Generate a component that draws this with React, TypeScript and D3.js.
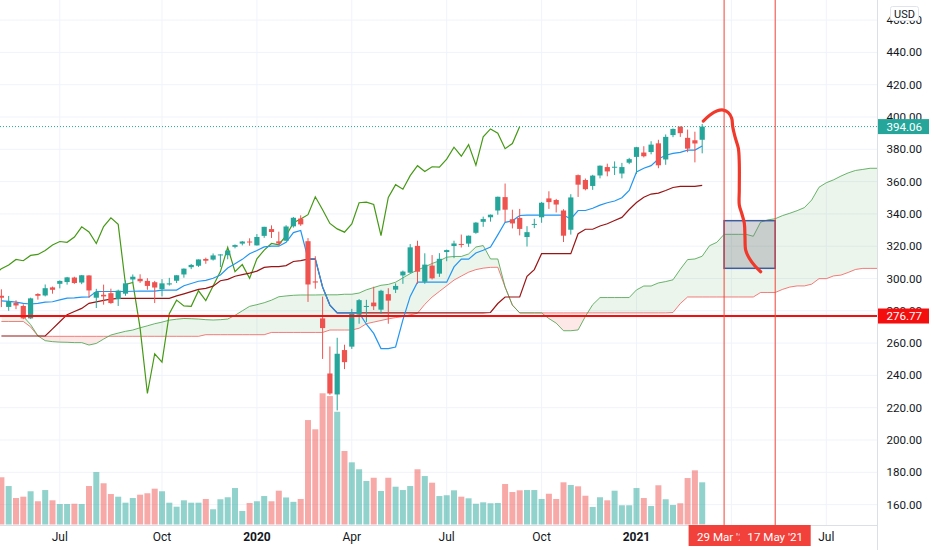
import React from 'react';
import * as d3 from 'd3';

// ---------- DATA (weekly bars, index 0 = week of 6 May 2019, 96 = week of 8 Mar 2021) ----------
const opens = [
  289.3, 282.4, 284.8, 283.0, 275.3, 290.4, 289.5, 294.5, 296.7, 297.8,
  300.6, 297.5, 301.9, 288.1, 289.9, 290.9, 287.2, 290.6, 299.4, 299.8,
  298.5, 297.7, 293.4, 296.3, 298.6, 302.5, 307.0, 307.9, 312.1, 311.7,
  314.6, 314.4, 319.6, 321.6, 322.9, 320.5, 326.4, 330.6, 323.0, 323.4,
  332.3, 337.1, 323.1, 298.2, 275.3, 241.2, 228.2, 255.7, 257.8, 277.6,
  282.6, 285.1, 280.7, 290.3, 293.1, 301.9, 303.6, 320.2, 298.0, 308.0,
  303.0, 316.4, 320.1, 321.4, 321.6, 328.3, 335.1, 337.9, 342.1, 350.4,
  336.7, 337.5, 325.7, 333.2, 337.9, 349.6, 348.6, 342.1, 330.2, 364.0,
  361.0, 357.3, 363.8, 369.0, 368.6, 365.0, 371.7, 375.3, 378.0, 378.3,
  383.7, 373.7, 388.8, 394.0, 387.1, 385.6, 385.9,
];
const highs = [
  293.3, 289.2, 286.5, 284.0, 288.1, 290.9, 296.3, 295.0, 298.8, 301.0,
  301.1, 302.2, 302.0, 293.6, 296.2, 293.7, 293.1, 298.8, 302.5, 302.6,
  300.2, 298.5, 299.6, 300.4, 302.0, 306.2, 309.0, 311.8, 312.9, 315.5,
  315.0, 317.3, 321.1, 323.2, 324.9, 327.5, 332.0, 332.9, 329.0, 333.0,
  338.1, 339.1, 325.0, 313.8, 288.8, 257.9, 263.3, 259.0, 281.2, 287.3,
  286.8, 294.9, 293.0, 294.0, 297.0, 304.9, 321.3, 323.4, 315.6, 314.5,
  315.7, 317.9, 323.4, 327.2, 326.6, 334.9, 338.3, 339.6, 350.7, 358.8,
  342.6, 343.1, 332.4, 337.0, 347.4, 354.0, 349.3, 342.9, 352.2, 364.4,
  361.9, 364.2, 370.0, 371.1, 372.5, 371.6, 374.7, 381.5, 381.9, 385.0,
  385.9, 389.2, 392.9, 394.2, 392.2, 390.9, 395.7,
];
const lows = [
  282.3, 280.0, 281.0, 274.8, 275.0, 286.9, 288.9, 290.6, 293.9, 296.2,
  296.7, 296.5, 288.0, 281.7, 283.8, 284.3, 283.0, 289.3, 297.4, 297.3,
  293.0, 284.8, 288.9, 295.6, 297.2, 300.5, 305.8, 307.2, 309.1, 311.1,
  307.1, 311.9, 318.7, 320.5, 320.3, 320.4, 325.2, 325.1, 320.6, 323.3,
  331.5, 332.6, 285.5, 293.7, 250.2, 228.0, 218.3, 243.9, 256.4, 272.0,
  273.0, 280.5, 278.0, 272.0, 291.0, 296.7, 303.1, 296.7, 296.7, 299.4,
  301.0, 310.7, 312.6, 319.2, 319.6, 327.7, 332.0, 335.2, 339.5, 334.9,
  331.0, 326.7, 319.8, 331.2, 334.5, 343.1, 340.9, 322.6, 327.2, 350.5,
  354.6, 354.9, 362.0, 363.3, 364.1, 362.0, 370.8, 364.8, 375.0, 376.9,
  368.3, 370.4, 387.5, 387.7, 378.2, 371.9, 377.5,
];
const closes = [
  288.1, 285.8, 283.3, 275.3, 287.7, 289.3, 294.0, 293.0, 298.5, 300.7,
  297.2, 302.0, 292.6, 291.6, 288.9, 284.8, 292.5, 297.0, 301.1, 298.3,
  295.4, 294.4, 297.0, 297.0, 302.0, 306.1, 308.4, 311.8, 311.0, 314.3,
  314.9, 317.3, 320.7, 322.9, 322.4, 325.7, 332.0, 328.8, 321.7, 332.2,
  337.6, 333.5, 296.3, 297.5, 269.3, 228.8, 253.4, 248.2, 278.2, 286.6,
  283.0, 282.8, 292.4, 286.3, 295.4, 304.3, 319.3, 304.2, 308.6, 300.1,
  312.2, 317.6, 321.7, 320.9, 326.5, 334.6, 336.8, 339.5, 350.6, 342.6,
  334.1, 330.7, 328.7, 333.8, 346.9, 347.3, 345.8, 326.5, 350.2, 358.1,
  355.3, 363.7, 369.85, 366.3, 369.2, 369.0, 373.9, 381.3, 375.7, 382.9,
  370.1, 387.7, 392.6, 390.0, 380.4, 383.6, 394.06,
];
// weekly volume, millions of shares
const volumes = [
  496, 404, 278, 292, 349, 244, 362, 254, 215, 215,
  218, 215, 404, 551, 433, 320, 292, 229, 278, 313,
  328, 376, 349, 229, 187, 254, 229, 229, 268, 160,
  265, 286, 383, 142, 226, 244, 299, 244, 355, 284,
  238, 268, 1097, 1000, 1378, 1349, 1184, 772, 653, 580,
  457, 491, 352, 491, 397, 362, 404, 580, 509, 439,
  299, 307, 359, 292, 275, 218, 233, 223, 226, 425,
  341, 359, 362, 362, 268, 323, 268, 443, 415, 401,
  302, 184, 286, 254, 355, 202, 202, 383, 278, 194,
  412, 265, 205, 223, 488, 569, 443,
];
// Ichimoku (9, 26, 52, 26)
const conversionLine = [
  286.1, 285.8, 285.4, 284.6, 284.2, 284.6, 285.4, 285.6, 286.8, 287.9,
  287.95, 288.5, 288.6, 291.95, 291.95, 291.95, 291.95, 291.95, 292.1, 292.15,
  292.15, 292.15, 292.8, 292.8, 292.8, 295.5, 296.9, 298.3, 298.85, 300.15,
  302.2, 306.45, 309.15, 311.85, 315.35, 317.3, 319.55, 320.0, 320.0, 322.45,
  328.4, 329.7, 312.3, 312.3, 294.7, 283.5, 278.7, 278.7, 278.7, 278.7,
  271.7, 266.0, 256.6, 256.6, 257.6, 274.4, 288.9, 297.7, 297.7, 297.7,
  297.7, 297.7, 307.2, 312.0, 312.0, 315.8, 317.5, 319.5, 327.0, 334.8,
  335.7, 339.0, 339.2, 339.3, 339.3, 339.3, 339.3, 339.3, 336.9, 342.1,
  342.1, 343.5, 345.4, 346.9, 348.0, 350.0, 354.5, 366.0, 368.3, 369.9,
  373.95, 376.3, 377.5, 378.1, 379.5, 379.5, 382.0,
];
const baseLine = [
  264.4, 264.4, 264.4, 264.4, 264.4, 264.4, 264.4, 268.8, 273.2, 277.6,
  279.6, 281.5, 284.6, 285.5, 286.5, 287.2, 287.7, 287.7, 287.7, 287.7,
  287.7, 287.7, 287.7, 287.7, 289.2, 290.5, 291.9, 293.3, 293.85, 295.25,
  298.6, 299.5, 301.4, 302.45, 303.3, 304.6, 306.85, 307.3, 307.3, 308.0,
  310.55, 311.05, 311.95, 311.95, 294.65, 283.55, 278.7, 278.7, 278.7, 278.7,
  278.7, 278.7, 278.7, 278.7, 278.7, 278.7, 278.7, 278.7, 278.7, 278.7,
  278.7, 278.7, 278.7, 278.7, 278.7, 278.7, 278.7, 278.95, 284.5, 288.55,
  288.55, 288.55, 301.35, 305.5, 315.4, 315.4, 315.4, 315.4, 315.4, 327.7,
  330.5, 330.5, 332.5, 333.9, 335.95, 337.85, 342.7, 347.05, 350.35, 352.3,
  352.9, 354.5, 356.35, 357.0, 357.0, 357.0, 357.7,
];
const leadingSpanA = [
  277.0, 277.0, 276.8, 276.5, 271.5, 264.5, 261.5, 260.9, 260.6, 260.5,
  260.3, 260.3, 258.8, 259.8, 262.5, 265.0, 266.2, 267.3, 268.1, 269.5,
  270.7, 272.0, 273.0, 274.2, 274.8, 275.25, 275.1, 274.9, 274.5, 274.3,
  274.5, 274.9, 277.2, 280.0, 282.75, 283.8, 285.0, 286.6, 288.7, 289.2,
  289.6, 289.8, 289.8, 289.8, 289.9, 289.9, 289.9, 290.25, 290.25, 291.0,
  293.0, 294.4, 295.8, 296.35, 297.7, 300.4, 303.0, 305.3, 307.15, 309.3,
  310.95, 313.2, 313.65, 313.65, 315.2, 319.5, 320.4, 312.1, 312.1, 294.7,
  283.5, 278.7, 278.7, 278.7, 278.7, 275.2, 272.35, 267.65, 267.65, 268.15,
  276.55, 283.8, 288.2, 288.2, 288.2, 288.2, 288.2, 292.95, 295.35, 295.35,
  297.25, 298.1, 299.2, 305.75, 311.7, 312.1, 313.8, 320.3, 322.4, 327.35,
  327.35, 327.35, 327.35, 326.15, 334.9, 336.3, 337.0, 338.95, 340.4, 342.0,
  343.9, 348.6, 356.5, 359.3, 361.1, 363.4, 365.4, 366.9, 367.55, 368.25,
  368.25, 369.85,
];
const leadingSpanB = [
  273.4, 273.4, 273.4, 273.4, 270.0, 264.4, 264.2, 264.2, 264.2, 264.2,
  264.2, 264.2, 264.2, 264.2, 264.2, 264.2, 264.2, 264.2, 264.2, 264.2,
  264.2, 264.2, 264.2, 264.2, 264.2, 264.2, 264.2, 264.2, 265.2, 265.2,
  265.2, 265.2, 265.2, 265.2, 265.2, 265.2, 265.2, 266.6, 266.6, 266.6,
  266.6, 266.6, 266.6, 266.6, 266.6, 268.1, 268.1, 268.1, 268.1, 269.2,
  272.0, 273.0, 274.0, 275.0, 275.8, 276.4, 277.5, 278.5, 284.0, 288.5,
  292.0, 295.5, 299.0, 301.5, 303.9, 305.5, 306.4, 306.9, 306.95, 294.65,
  283.55, 278.7, 278.7, 278.7, 278.7, 278.7, 278.7, 278.7, 278.7, 278.7,
  278.7, 278.7, 278.7, 278.7, 278.7, 278.7, 278.7, 278.7, 278.7, 278.7,
  278.7, 278.7, 278.95, 284.5, 288.55, 288.55, 288.55, 288.55, 288.55, 288.55,
  288.55, 288.55, 288.55, 288.55, 291.35, 291.35, 291.35, 293.25, 294.7, 295.4,
  295.4, 296.5, 299.9, 299.9, 301.6, 302.1, 303.75, 305.6, 306.25, 306.25,
  306.25, 306.95,
];
const laggingShift = 25;

// axes
const priceTicks = [160, 180, 200, 220, 240, 260, 280, 300, 320, 340, 360, 380, 400, 420, 440, 460];
const gridTimeIdx = [8, 22, 35, 48, 61, 74, 87, 100, 113];
// visible time labels (the Apr 2021 one sits under the marker labels)
const timeTickIdx = [8, 22, 35, 48, 61, 74, 87, 113];
const timeTickText = ['Jul', 'Oct', '2020', 'Apr', 'Jul', 'Oct', '2021', 'Jul'];
const timeTickBold = [false, false, true, false, false, false, true, false];

// annotations
const lastPrice = 394.06;
const levelPrice = 276.77;
const markerIdx = [99, 106];
const markerText = ["29 Mar '21", "17 May '21"];
const boxPrices = [335.8, 306.3];
const brushIdx = [96.15, 97.07, 97.99, 98.89, 99.58, 100.04, 100.18, 100.49, 100.95, 101.08, 101.08, 101.08, 101.41, 101.77, 101.86, 101.96, 102.45, 103.23, 104.01];
const brushPrice = [397.5, 401.2, 403.7, 404.3, 402.7, 399.2, 394.0, 387.8, 380.6, 371.3, 354.8, 345.5, 340.4, 334.2, 325.9, 317.6, 312.5, 307.7, 304.2];

const W = 932;
const H = 550;
const PR = 877; // right edge of plot
const PB = 525; // bottom edge of plot
const FONT = 'Roboto, "Liberation Sans", sans-serif';
const UP = '#26a69a';
const DOWN = '#ef5350';

export default function App() {
  const x = d3.scaleLinear().domain([0, 96]).range([1.4, 702.2]);
  const y = d3.scaleLinear().domain([160, 400]).range([504.6, 117]);
  const yv = d3.scaleLinear().domain([0, d3.max(volumes) as number]).range([524.5, 393.3]);

  const seriesLine = (arr: number[]) =>
    d3.line<number>().x((_, i) => x(i)).y((d) => y(d))(arr) || '';

  const lagPts: [number, number][] = closes
    .map((c, j) => [j - laggingShift, c] as [number, number])
    .filter((p) => p[0] >= -1);
  const lagPath = d3.line<[number, number]>().x((p) => x(p[0])).y((p) => y(p[1]))(lagPts) || '';

  const cloudPath =
    d3.area<number>().x((_, i) => x(i)).y0((_, i) => y(leadingSpanB[i])).y1((d) => y(d))(leadingSpanA) || '';
  const aboveB = d3.area<number>().x((_, i) => x(i)).y0(0).y1((d) => y(d))(leadingSpanB) || '';
  const belowB = d3.area<number>().x((_, i) => x(i)).y0(PB).y1((d) => y(d))(leadingSpanB) || '';

  const brushPts = brushIdx.map((b, i) => [b, brushPrice[i]] as [number, number]);
  const brushPath =
    d3.line<[number, number]>().x((p) => x(p[0])).y((p) => y(p[1])).curve(d3.curveCatmullRom)(brushPts) || '';

  const bodyW = 5.2;
  const volW = 6;
  const labelW = 71;

  return (
    <svg
      width={W}
      height={H}
      viewBox={`0 0 ${W} ${H}`}
      style={{ position: 'absolute', left: 0, top: 0, display: 'block', background: '#fff' }}
      fontFamily={FONT}
    >
      <defs>
        <clipPath id="plot">
          <rect x={0} y={0} width={PR} height={PB} />
        </clipPath>
        <clipPath id="aboveB">
          <path d={aboveB} />
        </clipPath>
        <clipPath id="belowB">
          <path d={belowB} />
        </clipPath>
        <clipPath id="firstMarkerLabel">
          <rect x={x(markerIdx[0]) - labelW / 2} y={PB} width={x(markerIdx[1]) - x(markerIdx[0])} height={22} />
        </clipPath>
      </defs>
      <rect x={0} y={0} width={W} height={H} fill="#ffffff" />

      {/* grid */}
      <g stroke="#f0f3fa" strokeWidth={1}>
        {priceTicks.map((p) => (
          <line key={'h' + p} x1={0} x2={PR} y1={y(p)} y2={y(p)} />
        ))}
        {gridTimeIdx.map((t) => (
          <line key={'v' + t} x1={x(t)} x2={x(t)} y1={0} y2={PB} />
        ))}
      </g>

      <g clipPath="url(#plot)">
        {/* cloud */}
        <g clipPath="url(#aboveB)">
          <path d={cloudPath} fill="rgba(67,160,71,0.1)" />
        </g>
        <g clipPath="url(#belowB)">
          <path d={cloudPath} fill="rgba(244,67,54,0.12)" />
        </g>

        {/* volume */}
        {volumes.map((v, i) => (
          <rect
            key={'vol' + i}
            x={x(i) - volW / 2}
            y={yv(v)}
            width={volW}
            height={yv(0) - yv(v)}
            fill={closes[i] >= opens[i] ? 'rgba(38,166,154,0.5)' : 'rgba(239,83,80,0.5)'}
          />
        ))}

        {/* ichimoku lines */}
        <path d={seriesLine(leadingSpanB)} fill="none" stroke="#ef5350" strokeOpacity={0.75} strokeWidth={1} />
        <path d={seriesLine(leadingSpanA)} fill="none" stroke="#43a047" strokeOpacity={0.8} strokeWidth={1} />
        <path d={lagPath} fill="none" stroke="#459915" strokeWidth={1.2} />
        <path d={seriesLine(baseLine)} fill="none" stroke="#991515" strokeWidth={1.2} />
        <path d={seriesLine(conversionLine)} fill="none" stroke="#2196f3" strokeWidth={1.2} />

        {/* candles */}
        {closes.map((c, i) => {
          const o = opens[i];
          const col = c >= o ? UP : DOWN;
          const top = y(Math.max(o, c));
          const bot = y(Math.min(o, c));
          return (
            <g key={'c' + i}>
              <line x1={x(i)} x2={x(i)} y1={y(highs[i])} y2={y(lows[i])} stroke={col} strokeWidth={1} />
              <rect x={x(i) - bodyW / 2} y={top} width={bodyW} height={Math.max(1, bot - top)} fill={col} />
            </g>
          );
        })}

        {/* level lines */}
        <line x1={0} x2={PR} y1={y(lastPrice)} y2={y(lastPrice)} stroke={UP} strokeWidth={1} strokeDasharray="1 2" />
        <line x1={0} x2={PR} y1={y(levelPrice)} y2={y(levelPrice)} stroke="#f50e0e" strokeWidth={2.2} />

        {/* box */}
        <rect
          x={x(markerIdx[0])}
          y={y(boxPrices[0])}
          width={x(markerIdx[1]) - x(markerIdx[0])}
          height={y(boxPrices[1]) - y(boxPrices[0])}
          fill="rgba(120,123,134,0.32)"
          stroke="#3f5b9c"
          strokeWidth={1.5}
        />

        {/* brush */}
        <path d={brushPath} fill="none" stroke="#f0392b" strokeWidth={3.2} strokeLinecap="round" strokeLinejoin="round" />

        {/* vertical markers */}
        {markerIdx.map((m) => (
          <line key={'m' + m} x1={x(m)} x2={x(m)} y1={0} y2={PB} stroke="#f44336" strokeWidth={1} />
        ))}
      </g>

      {/* axes lines */}
      <line x1={0} x2={PR} y1={PB + 0.5} y2={PB + 0.5} stroke="#dcdfe6" strokeWidth={1} />
      <line x1={PR + 0.5} x2={PR + 0.5} y1={0} y2={H} stroke="#dcdfe6" strokeWidth={1} />

      {/* price labels */}
      {priceTicks.map((p) => (
        <text key={'pl' + p} x={886.5} y={y(p)} dy="0.35em" fontSize={11.6} fill="#131722">
          {p.toFixed(2)}
        </text>
      ))}

      {/* time labels */}
      {timeTickIdx.map((t, i) => (
        <text
          key={'tl' + t}
          x={x(t)}
          y={541}
          textAnchor="middle"
          fontSize={12}
          fontWeight={timeTickBold[i] ? 700 : 400}
          fill="#131722"
        >
          {timeTickText[i]}
        </text>
      ))}

      {/* last price label */}
      <rect x={PR + 1} y={y(lastPrice) - 7.5} width={51} height={15} fill={UP} />
      <text x={886.5} y={y(lastPrice)} dy="0.35em" fontSize={11.6} fill="#ffffff">
        {lastPrice.toFixed(2)}
      </text>
      {/* horizontal level label */}
      <rect x={PR + 1} y={y(levelPrice) - 7.5} width={51} height={15} fill="#f50e0e" />
      <text x={886.5} y={y(levelPrice)} dy="0.35em" fontSize={11.6} fill="#ffffff">
        {levelPrice.toFixed(2)}
      </text>

      {/* USD */}
      <rect x={890.5} y={6.5} width={28} height={14} rx={2} fill="#ffffff" stroke="#e0e3eb" />
      <text x={904.5} y={13.7} dy="0.35em" textAnchor="middle" fontSize={11} fill="#131722">
        USD
      </text>

      {/* date labels of the markers (second one drawn over the first, as in the reference) */}
      {markerIdx.map((m, i) => (
        <g key={'ml' + m}>
          <rect x={x(m) - labelW / 2} y={PB} width={labelW} height={21} fill="#f2413a" />
          <text
            x={x(m)}
            y={540.5}
            textAnchor="middle"
            fontSize={11.6}
            fill="#ffffff"
            clipPath={i === 0 ? 'url(#firstMarkerLabel)' : undefined}
          >
            {markerText[i]}
          </text>
        </g>
      ))}
    </svg>
  );
}
